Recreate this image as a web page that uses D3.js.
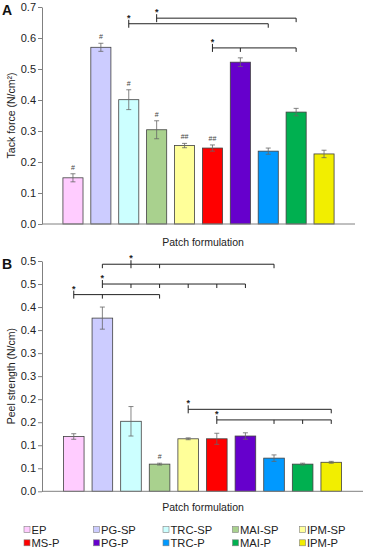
<!DOCTYPE html>
<html><head><meta charset="utf-8">
<script src="https://cdn.jsdelivr.net/npm/d3@7"></script>
<style>body{margin:0;background:#fff;}svg{display:block;font-family:"Liberation Sans",Arial,sans-serif;}</style>
</head><body>
<svg id="chart" width="366" height="550"></svg>
<script>
const categories = ["EP","PG-SP","TRC-SP","MAI-SP","IPM-SP","MS-P","PG-P","TRC-P","MAI-P","IPM-P"];
const barColors = ["#FFCCFF","#CCCCFF","#CCFFFF","#A9D18E","#FFFF99","#FF0000","#6600CC","#0099FF","#00B050","#F2EE00"];
const tackForce = [0.149,0.570,0.401,0.304,0.253,0.245,0.522,0.235,0.361,0.226];
const tackErr   = [0.013,0.013,0.032,0.029,0.007,0.010,0.014,0.010,0.012,0.012];
const tackMarks = ["#","#","#","#","##","##","","","",""];
const peelStrength = [0.119,0.376,0.152,0.059,0.114,0.114,0.120,0.072,0.059,0.063];
const peelErr      = [0.006,0.024,0.032,0.002,0.002,0.012,0.007,0.007,0.002,0.002];
const peelMarks    = ["","","","#","","","","","",""];
const tackTicks = [0,0.1,0.2,0.3,0.4,0.5,0.6,0.7];
const tackTickLabels = ["0.0","0.1","0.2","0.3","0.4","0.5","0.6","0.7"];
const peelTicks = [0,0.05,0.1,0.15,0.2,0.25,0.3,0.35,0.4,0.45,0.5];
const peelTickLabels = ["0.0","0.1","0.1","0.2","0.2","0.3","0.3","0.4","0.4","0.5","0.5"];
const tackBrackets = [
  {level:0.664, anchor:3, ticks:[3,8]},
  {level:0.646, anchor:2, ticks:[2,7]},
  {level:0.568, anchor:5, ticks:[5,6,8]}
];
const peelBrackets = [
  {level:0.493, anchor:2, ticks:[1,2,3,7]},
  {level:0.450, anchor:1, ticks:[1,2,3,4,5,6]},
  {level:0.427, anchor:0, ticks:[0,1,3]},
  {level:0.178, anchor:4, ticks:[4,9]},
  {level:0.155, anchor:5, ticks:[5,7,8,9]}
];

const svg = d3.select("#chart");

function panel(cfg){
  const g = svg.append("g");
  const x = d3.scaleBand().domain(categories).range([cfg.x0, cfg.x1]).paddingInner(0.28).paddingOuter(0.75);
  const y = d3.scaleLinear().domain(cfg.domain).range([cfg.yBottom, cfg.yTop]);
  const ya = d3.axisLeft(y).tickValues(cfg.ticks).tickFormat((d,i)=>cfg.tickLabels[i]).tickSize(4).tickSizeOuter(0).tickPadding(2);
  const yg = g.append("g").attr("transform",`translate(${cfg.x0},0)`).call(ya);
  yg.select(".domain").attr("stroke","#808080");
  yg.selectAll(".tick line").attr("stroke","#808080");
  yg.selectAll(".tick text").attr("font-size",11).attr("fill","#222").attr("font-family","Liberation Sans, Arial, sans-serif");
  g.selectAll("rect.bar").data(cfg.values).join("rect")
    .attr("x",(d,i)=>x(categories[i])).attr("width",x.bandwidth())
    .attr("y",d=>y(d)).attr("height",d=>y(0)-y(d))
    .attr("fill",(d,i)=>barColors[i]).attr("stroke","#404040").attr("stroke-width",0.8);
  g.append("line").attr("x1",cfg.x0).attr("x2",cfg.x1).attr("y1",y(0)).attr("y2",y(0)).attr("stroke","#808080");
  const eb = g.append("g").attr("stroke","#666").attr("stroke-width",0.8);
  cfg.values.forEach((v,i)=>{
    const cx = x(categories[i]) + x.bandwidth()/2, e = cfg.errs[i];
    eb.append("line").attr("x1",cx).attr("x2",cx).attr("y1",y(v+e)).attr("y2",y(v-e));
    eb.append("line").attr("x1",cx-2.5).attr("x2",cx+2.5).attr("y1",y(v+e)).attr("y2",y(v+e));
    eb.append("line").attr("x1",cx-2.5).attr("x2",cx+2.5).attr("y1",y(v-e)).attr("y2",y(v-e));
    if (cfg.marks[i]) {
      g.append("text").attr("x",cx).attr("y",y(v+e)-4).attr("text-anchor","middle")
        .attr("font-size",7).attr("fill","#444").text(cfg.marks[i]);
    }
  });
  const bg = g.append("g").attr("stroke","#222").attr("stroke-width",1);
  cfg.brackets.forEach(b=>{
    const yy = y(b.level);
    const cxs = b.ticks.map(i=>x(categories[i]) + x.bandwidth()/2);
    bg.append("line").attr("x1",d3.min(cxs)).attr("x2",d3.max(cxs)).attr("y1",yy).attr("y2",yy);
    b.ticks.forEach(i=>{
      const cx = x(categories[i]) + x.bandwidth()/2;
      const top = (i===b.anchor) ? yy-4 : yy;
      bg.append("line").attr("x1",cx).attr("x2",cx).attr("y1",top).attr("y2",yy+4);
    });
    const ax = x(categories[b.anchor]) + x.bandwidth()/2;
    g.append("text").attr("x",ax).attr("y",yy-3).attr("text-anchor","middle")
      .attr("font-size",9).attr("font-weight","bold").attr("fill","#222").text("*");
  });
  g.append("text").attr("x",203).attr("y",cfg.xTitleY).attr("text-anchor","middle")
    .attr("font-size",10.5).attr("fill","#222").text("Patch formulation");
  g.append("text").attr("transform",`translate(15,${(cfg.yTop+cfg.yBottom)/2}) rotate(-90)`)
    .attr("text-anchor","middle").attr("font-size",10.5).attr("fill","#222").text(cfg.yTitle);
  g.append("text").attr("x",2).attr("y",cfg.letterY).attr("font-size",14).attr("font-weight","bold")
    .attr("fill","#111").text(cfg.letter);
}

panel({x0:42, x1:355, yTop:7, yBottom:224, domain:[0,0.7], ticks:tackTicks, tickLabels:tackTickLabels,
  values:tackForce, errs:tackErr, marks:tackMarks, brackets:tackBrackets,
  yTitle:"Tack force (N/cm²)", xTitleY:246, letter:"A", letterY:15});
panel({x0:42, x1:363, yTop:261, yBottom:491.3, domain:[0,0.5], ticks:peelTicks, tickLabels:peelTickLabels,
  values:peelStrength, errs:peelErr, marks:peelMarks, brackets:peelBrackets,
  yTitle:"Peel strength (N/cm)", xTitleY:511, letter:"B", letterY:269});

const legend = svg.append("g").attr("font-size",11.2).attr("fill","#222");
const legX = [24, 93.5, 163, 232.5, 299.5];
categories.forEach((c,i)=>{
  const col = i % 5, row = Math.floor(i/5);
  const lx = legX[col], ly = 529.5 + row*13.3;
  legend.append("rect").attr("x",lx).attr("y",ly-3).attr("width",6).attr("height",6)
    .attr("fill",barColors[i]).attr("stroke","#808080").attr("stroke-width",0.6);
  legend.append("text").attr("x",lx+7.5).attr("y",ly+4).text(c);
});
</script>
</body></html>
